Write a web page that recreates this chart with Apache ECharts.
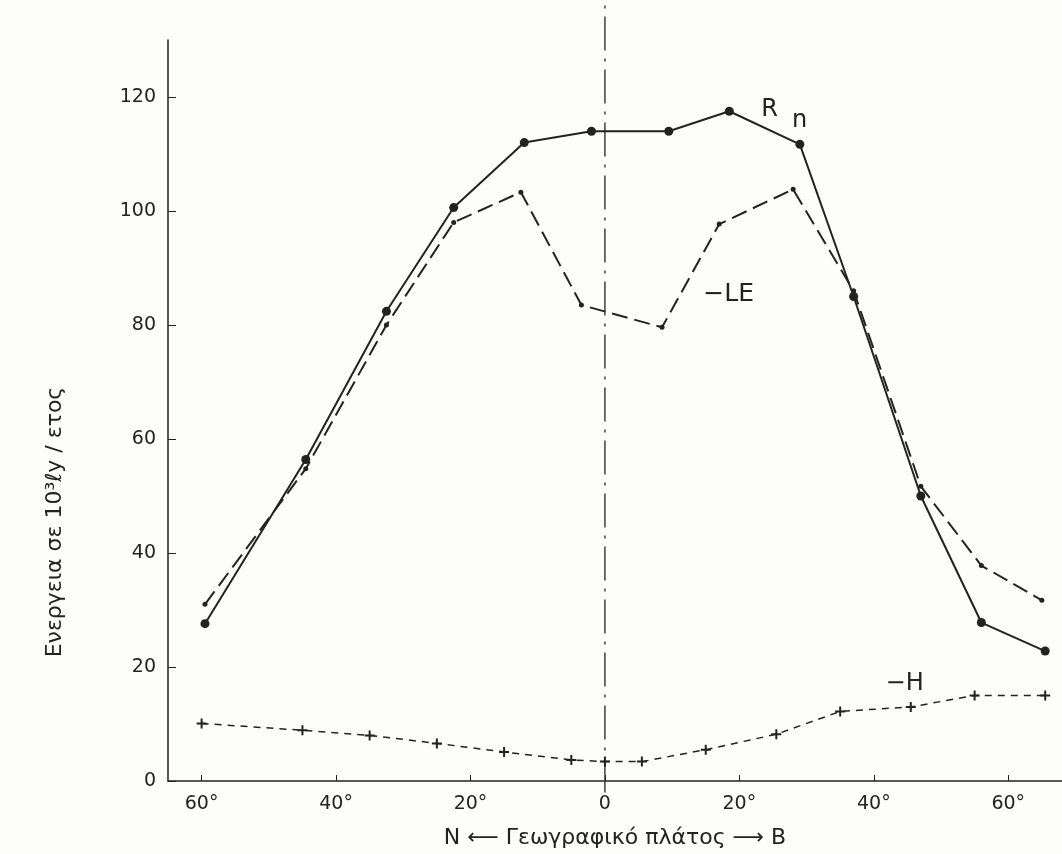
<!DOCTYPE html>
<html>
<head>
<meta charset="utf-8">
<script src="https://cdn.jsdelivr.net/npm/echarts@6/dist/echarts.min.js"></script>
<style>
  html, body { margin: 0; padding: 0; background: #fdfdfc; }
  #main { width: 1062px; height: 854px; }
</style>
</head>
<body>
<div id="main"></div>
<script>
// latitudes (degrees, south negative) and energy in 10^3 ly / year
var rnLat = [-59.5, -44.5, -32.5, -22.5, -12, -2, 9.5, 18.5, 29, 37, 47, 56, 65.5];
var rnVal = [27.6, 56.4, 82.4, 100.6, 112, 114, 114, 117.5, 111.7, 85, 50, 27.8, 22.8];

var leLat = [-59.5, -44.5, -32.5, -22.5, -12.5, -3.5, 8.5, 17, 28, 37, 47, 56, 65];
var leVal = [31, 54.8, 80, 98, 103.3, 83.5, 79.6, 97.7, 103.8, 86, 51.7, 37.8, 31.7];

var hLat = [-60, -45, -35, -25, -15, -5, 0, 5.5, 15, 25.5, 35, 45.5, 55, 65.5];
var hVal = [10.1, 8.9, 8, 6.6, 5.1, 3.7, 3.4, 3.4, 5.5, 8.2, 12.2, 13, 15, 15];

// equator reference line (dash-dot), runs a bit past both ends of the axis
var eqLat = [0, 0];
var eqVal = [-2, 140];

var xTicks = [-60, -40, -20, 0, 20, 40, 60];
var yTicks = [0, 20, 40, 60, 80, 100, 120];

var ink = '#222';
var font = 'DejaVu Sans';

function pairs(xs, ys) {
  return xs.map(function (x, i) { return [x, ys[i]]; });
}

// text label placed in data space (no visible symbol)
function tag(text, x, y, size) {
  return {
    coord: [x, y],
    symbolSize: 1,
    itemStyle: { color: 'transparent' },
    label: {
      show: true, position: 'right', distance: 0,
      formatter: text, color: ink, fontFamily: font, fontSize: size
    }
  };
}

var chart = echarts.init(document.getElementById('main'));

var option = {
  animation: false,
  backgroundColor: '#fdfdfc',
  grid: { left: 168, right: 0, top: 40, bottom: 71 },
  xAxis: {
    type: 'value', min: -65, max: 68,
    axisLine: { onZero: false, lineStyle: { color: ink, width: 1.5 } },
    axisTick: { inside: true, length: 6, customValues: xTicks, lineStyle: { color: ink } },
    axisLabel: {
      customValues: xTicks, margin: 14, color: ink, fontFamily: font, fontSize: 19,
      formatter: function (v) { return v === 0 ? '0' : Math.abs(v) + '°'; }
    },
    splitLine: { show: false },
    name: 'N ⟵ Γεωγραφικό πλάτος ⟶ B',
    nameLocation: 'middle', nameGap: 46,
    nameTextStyle: { color: ink, fontFamily: font, fontSize: 22 }
  },
  yAxis: {
    type: 'value', min: 0, max: 130,
    axisLine: { show: true, onZero: false, lineStyle: { color: ink, width: 1.5 } },
    axisTick: { show: true, inside: true, length: 8, customValues: yTicks, lineStyle: { color: ink } },
    axisLabel: { customValues: yTicks, margin: 12, color: ink, fontFamily: font, fontSize: 19 },
    splitLine: { show: false }
  },
  graphic: [{
    type: 'text', x: 55, y: 522, rotation: Math.PI / 2,
    style: {
      text: 'Ενεργεια σε 10³ℓy / ετος', fill: ink, font: '22px "DejaVu Sans"',
      textAlign: 'center', textVerticalAlign: 'middle'
    }
  }],
  series: [
    {
      name: 'equator', type: 'line', data: pairs(eqLat, eqVal),
      clip: false, silent: true, symbol: 'none', z: 1,
      lineStyle: { color: '#333', width: 1.4, type: [34, 8, 3, 8] }
    },
    {
      name: 'Rn', type: 'line', data: pairs(rnLat, rnVal),
      symbol: 'circle', symbolSize: 9,
      lineStyle: { color: ink, width: 2 }, itemStyle: { color: ink },
      z: 4,
      markPoint: {
        data: [tag('R', 23.2, 117.6, 24), tag('n', 27.8, 115.8, 24)]
      }
    },
    {
      name: 'LE', type: 'line', data: pairs(leLat, leVal),
      symbol: 'circle', symbolSize: 5,
      lineStyle: { color: ink, width: 2, type: [16, 7] }, itemStyle: { color: ink },
      z: 3,
      markPoint: { data: [tag('−LE', 14.6, 85.3, 25)] }
    },
    {
      name: 'H', type: 'line', data: pairs(hLat, hVal),
      symbol: 'path://M4,0H6V4H10V6H6V10H4V6H0V4H4Z', symbolSize: 10,
      lineStyle: { color: ink, width: 1.5, type: [7, 6] }, itemStyle: { color: ink },
      z: 3,
      markPoint: { data: [tag('−H', 41.7, 16.9, 24)] }
    }
  ]
};

chart.setOption(option);
</script>
</body>
</html>
